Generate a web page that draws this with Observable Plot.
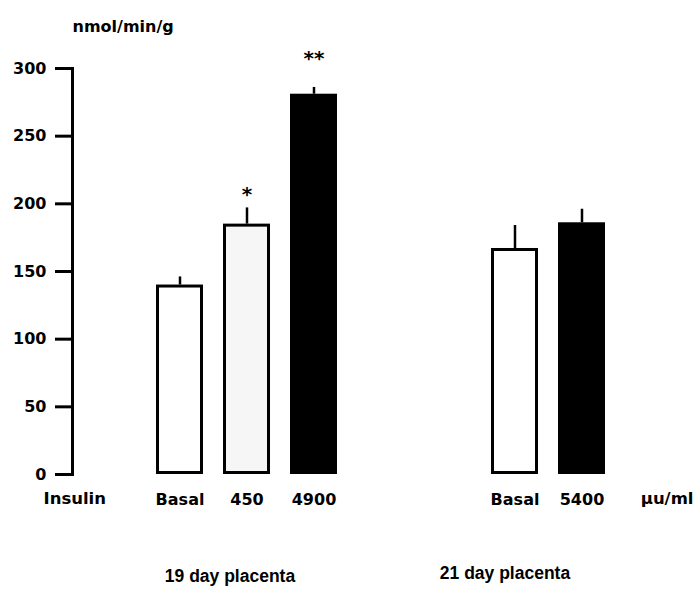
<!DOCTYPE html>
<html>
<head>
<meta charset="utf-8">
<script src="https://cdn.jsdelivr.net/npm/d3@7"></script>
<script src="https://cdn.jsdelivr.net/npm/@observablehq/plot@0.6"></script>
<style>
  html, body { margin: 0; padding: 0; background: #fff; }
</style>
</head>
<body>
<div id="chart"></div>
<script>
// ---- data ----
const barKeys   = ["b19", "i450", "i4900", "b21", "i5400"];
const barLabels = ["Basal", "450", "4900", "Basal", "5400"];
const doseLevel = ["basal", "low", "high", "basal", "high"];
const groups    = ["19 day placenta", "19 day placenta", "19 day placenta", "21 day placenta", "21 day placenta"];
const values    = [140, 185, 281, 167, 186];
const errTops   = [146, 197, 286, 184, 196];
const stars     = ["", "*", "**", "", ""];
const slotOrder = ["b19", "i450", "i4900", "gap1", "gap2", "b21", "i5400"];
const yTicks    = [0, 50, 100, 150, 200, 250, 300];

const rows = barKeys.map((k, i) => ({
  key: k, label: barLabels[i], level: doseLevel[i], group: groups[i],
  value: values[i], err: errTops[i], star: stars[i]
}));
const labelOf = Object.fromEntries(barKeys.map((k, i) => [k, barLabels[i]]));

const font = "'DejaVu Sans', 'Liberation Sans', sans-serif";
const groupFont = "'Liberation Sans', Arial, sans-serif";

const chart = Plot.plot({
  width: 693,
  height: 595,
  marginTop: 68,
  marginBottom: 121,
  marginLeft: 72,
  marginRight: 4,
  style: { fontFamily: font, fontSize: "16px", fontWeight: "bold", color: "#000", background: "#fff" },
  x: { type: "band", domain: slotOrder, paddingInner: 0.3, paddingOuter: 1.2, align: 0.5 },
  y: { domain: [0, 300], ticks: yTicks },
  color: { type: "ordinal", domain: ["basal", "low", "high"], range: ["#ffffff", "#f6f6f6", "#000000"] },
  marks: [
    Plot.axisY({ ticks: yTicks, tickSize: 17, tickPadding: 9, strokeWidth: 3, fontSize: 16, label: null }),
    Plot.frame({ anchor: "left", strokeWidth: 3 }),
    Plot.axisX({ tickSize: 0, tickPadding: 19, tickFormat: d => labelOf[d] ?? "", fontSize: 16, label: null }),
    Plot.ruleX(rows, { x: "key", y1: "value", y2: "err", stroke: "#000", strokeWidth: 2.5 }),
    Plot.barY(rows, { x: "key", y: "value", fill: "level", stroke: "#000", strokeWidth: 3, inset: 1.5 }),
    Plot.text(rows.filter(d => d.star === "*"), { x: "key", y: "err", text: "star", dy: -13, fontSize: 20 }),
    Plot.text(rows.filter(d => d.star === "**"), { x: "key", y: "err", text: "star", dy: -29, fontSize: 20 }),
    Plot.text(["nmol/min/g"], { frameAnchor: "top-left", textAnchor: "start", dy: -48, dx: 0, fontSize: 16 }),
    Plot.text(["Insulin"], { frameAnchor: "bottom-left", textAnchor: "start", dx: -29, dy: 29, fontSize: 16.5 }),
    Plot.text(["µu/ml"], { frameAnchor: "bottom-right", textAnchor: "end", dx: 4, dy: 29, fontSize: 16.5 }),
    Plot.text(rows.filter(d => d.key === "i450"), { x: "key", frameAnchor: "bottom", text: "group", dx: -17, dy: 107, fontSize: 17.5, fontFamily: groupFont }),
    Plot.text(rows.filter(d => d.key === "b21"), { x: "key", frameAnchor: "bottom", text: "group", dx: -10, dy: 104, fontSize: 17.5, fontFamily: groupFont })
  ]
});
document.getElementById("chart").appendChild(chart);
</script>
</body>
</html>
